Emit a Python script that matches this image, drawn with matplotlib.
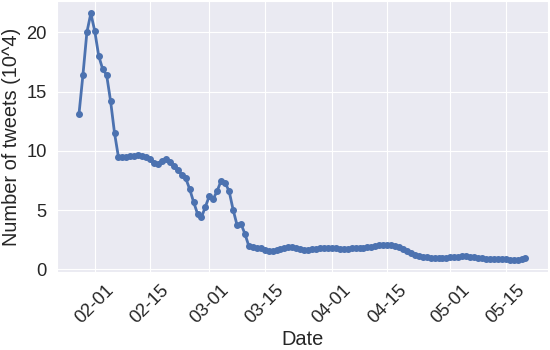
import pandas as pd
import seaborn as sns
import matplotlib
import matplotlib.pyplot as plt
import matplotlib.dates as mdates
matplotlib.use("agg")

# daily tweet counts (10^4), 2020-01-28 .. 2020-05-20
start_date = "2020-01-28"
end_date = "2020-05-20"
jan = [13.1, 16.4, 20.0, 21.6]
feb = [20.1, 18.0, 16.9, 16.4, 14.2, 11.5, 9.45, 9.5, 9.5, 9.6,
       9.6, 9.65, 9.6, 9.45, 9.3, 9.0, 8.9, 9.15, 9.3, 9.1,
       8.76, 8.4, 8.0, 7.7, 6.8, 5.7, 4.7, 4.4, 5.3]
mar = [6.2, 5.95, 6.65, 7.5, 7.3, 6.6, 5.05, 3.75, 3.85, 3.0,
       1.96, 1.9, 1.85, 1.78, 1.65, 1.55, 1.52, 1.6, 1.75, 1.85,
       1.88, 1.92, 1.85, 1.75, 1.68, 1.67, 1.72, 1.75, 1.8, 1.84, 1.85]
apr = [1.82, 1.8, 1.76, 1.75, 1.76, 1.78, 1.8, 1.82, 1.85, 1.9,
       1.93, 1.98, 2.05, 2.1, 2.1, 2.05, 2.0, 1.9, 1.75, 1.55,
       1.38, 1.25, 1.15, 1.08, 1.03, 1.0, 0.98, 0.98, 0.98, 1.0]
may = [1.02, 1.05, 1.08, 1.1, 1.1, 1.08, 1.03, 0.98, 0.95, 0.92,
       0.9, 0.88, 0.87, 0.86, 0.85, 0.83, 0.8, 0.8, 0.85, 0.93]

dates = pd.date_range(start_date, end_date, freq="D")
counts = jan + feb + mar + apr + may

sns.set_style("darkgrid")
plt.rcParams['font.family'] = ['Liberation Sans', 'DejaVu Sans']

fig = plt.figure(figsize=(5.5, 3.5), dpi=100)
ax = fig.add_axes([0.103, 0.222, 0.893, 0.775])
ax.plot(dates, counts, color="#4C72B0", marker="o", markersize=4, linewidth=2)

ax.xaxis.set_major_locator(mdates.DayLocator(bymonthday=[1, 15]))
ax.xaxis.set_major_formatter(mdates.DateFormatter("%m-%d"))
ax.set_yticks([0, 5, 10, 15, 20])
plt.setp(ax.get_xticklabels(), rotation=45)
ax.tick_params(labelsize=13.2, colors="#262626")
ax.set_xlabel("Date", fontsize=14.4, labelpad=2)
ax.set_ylabel("Number of tweets (10^4)", fontsize=14.4)

fig.savefig("out.png")
